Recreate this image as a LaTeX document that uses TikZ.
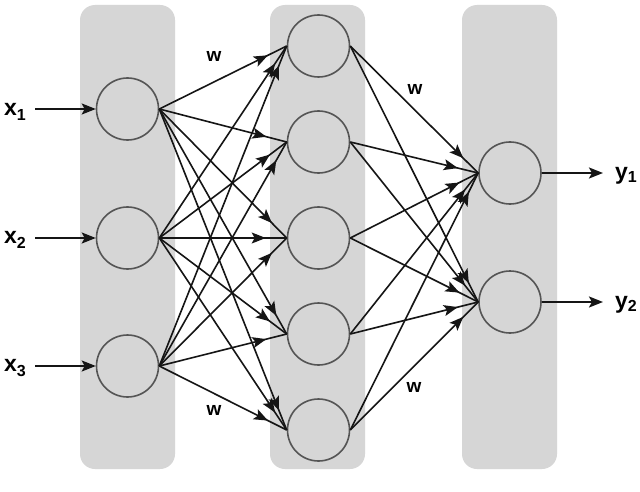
\documentclass[tikz,border=0pt]{standalone}
\usepackage{fontspec}
\setmainfont{Liberation Sans}
\usetikzlibrary{arrows.meta,decorations.markings,calc}
\definecolor{bandgray}{HTML}{D6D6D6}
\definecolor{ringgray}{HTML}{555555}
\definecolor{edgeblack}{HTML}{151515}
\begin{document}
\begin{tikzpicture}[x=1pt,y=-1pt,
  band/.style={fill=bandgray,draw=none,rounded corners=15pt},
  neuron/.style={circle,draw=ringgray,line width=1.6pt,minimum size=62pt,inner sep=0pt},
  conn/.style={color=edgeblack,line width=1.6pt,postaction={decorate},
    decoration={markings,mark=at position -21pt with {\arrow{Stealth[length=14pt,width=11pt,inset=3pt]}}}},
  io/.style={color=edgeblack,line width=1.9pt,-{Stealth[length=14pt,width=11pt,inset=3pt]}},
  lab/.style={font=\bfseries\fontsize{23}{23}\selectfont,inner sep=0pt},
  wlab/.style={font=\bfseries\fontsize{19}{19}\selectfont,inner sep=0pt}]
\useasboundingbox (0,0) rectangle (640,492);
\fill[white] (0,0) rectangle (640,492);
% bands
\fill[band] (80,5) rectangle (175,469);
\fill[band] (270,5) rectangle (365,469);
\fill[band] (462,5) rectangle (557,469);
% neurons
\node[neuron] (i1) at (127.5,109) {};
\node[neuron] (i2) at (127.5,238) {};
\node[neuron] (i3) at (127.5,366) {};
\node[neuron] (h1) at (318.5,46) {};
\node[neuron] (h2) at (318.5,142) {};
\node[neuron] (h3) at (318.5,238) {};
\node[neuron] (h4) at (318.5,334) {};
\node[neuron] (h5) at (318.5,430) {};
\node[neuron] (o1) at (510,173) {};
\node[neuron] (o2) at (510,302) {};
% connections
\foreach \a in {i1,i2,i3}{
  \foreach \b in {h1,h2,h3,h4,h5}{
    \draw[conn] (\a.east) -- (\b.west);
  }
}
\foreach \a in {h1,h2,h3,h4,h5}{
  \foreach \b in {o1,o2}{
    \draw[conn] (\a.east) -- (\b.west);
  }
}
% labels
\node[lab] (lx1) at (15,112) {x\raisebox{-5pt}{\fontsize{16}{16}\selectfont 1}};
\node[lab] (lx2) at (15,240) {x\raisebox{-5pt}{\fontsize{16}{16}\selectfont 2}};
\node[lab] (lx3) at (15,368) {x\raisebox{-5pt}{\fontsize{16}{16}\selectfont 3}};
\node[lab] (ly1) at (626,176) {y\raisebox{-3pt}{\fontsize{16}{16}\selectfont 1}};
\node[lab] (ly2) at (626,305) {y\raisebox{-3pt}{\fontsize{16}{16}\selectfont 2}};
\draw[io] ($(lx1.east |- i1.west)+(9,0)$) -- (i1.west);
\draw[io] ($(lx2.east |- i2.west)+(9,0)$) -- (i2.west);
\draw[io] ($(lx3.east |- i3.west)+(9,0)$) -- (i3.west);
\draw[io] (o1.east) -- ($(ly1.west |- o1.east)+(-12,0)$);
\draw[io] (o2.east) -- ($(ly2.west |- o2.east)+(-12,0)$);
\node[wlab] (w1) at (214,56) {w};
\node[wlab] (w2) at (415,89) {w};
\node[wlab] (w3) at (214,410) {w};
\node[wlab] (w4) at (414,387) {w};
\end{tikzpicture}
\end{document}
